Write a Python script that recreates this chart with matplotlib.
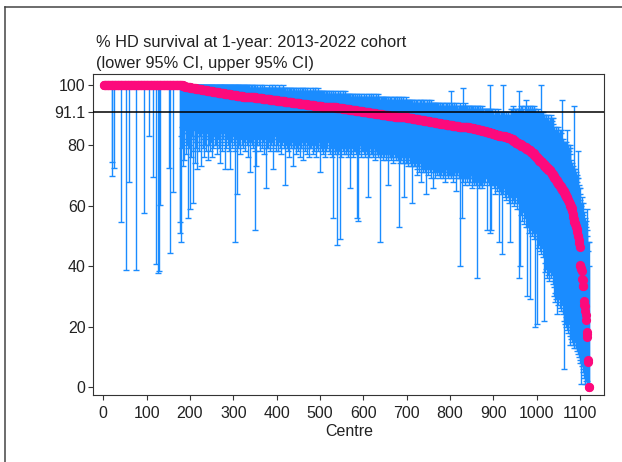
import numpy as np
import matplotlib
matplotlib.use("Agg")
import matplotlib.pyplot as plt
from matplotlib.lines import Line2D

# --- data (centres sorted by 1-year survival) ---
# estimate as runs: level held for count centres, then the sparse tail one by one
EST_LEVELS = [100.0, 99.8, 99.6, 99.4, 99.2,
              98.8, 98.5, 98.2, 97.9, 97.6, 97.3, 97.0, 96.7, 96.4, 96.1, 95.8,
              95.5, 95.2, 94.9, 94.6, 94.3, 94.0, 93.7, 93.4, 93.1, 92.8, 92.5,
              92.2, 91.9, 91.6, 91.3, 91.0, 90.7, 90.4, 90.1, 89.8, 89.5,
              89.2, 88.9, 88.6, 88.3, 88.0, 87.7, 87.4,
              87.1, 86.8, 86.5, 86.2, 85.9, 85.6, 85.3, 85.0, 84.7, 84.4, 84.1,
              83.8, 83.5, 83.2, 82.9, 82.6, 82.3,
              81.9, 81.4, 80.9, 80.4, 79.9, 79.4, 78.9, 78.5,
              77.9, 77.3, 76.7, 76.1, 75.5, 74.9, 74.3, 73.7, 73.1, 72.5, 71.9,
              71.3, 70.6, 69.9, 69.2, 68.5, 67.8, 67.1, 66.4, 65.8, 65.2,
              64.8, 64.2, 63.6, 63.0, 62.6, 62.0, 61.2, 60.6, 60.0, 59.2]
EST_COUNTS = [178, 5, 5, 5, 7,
              13, 13, 13, 13, 13, 14, 14, 14, 14, 14, 15,
              17, 17, 17, 17, 17, 17, 17, 17, 17, 17, 17,
              15, 15, 15, 15, 15, 15, 15, 15, 15, 15,
              13, 13, 13, 13, 13, 13, 12,
              14, 14, 14, 12, 12, 11, 10, 9, 9, 8, 8,
              7, 7, 7, 7, 7, 6,
              6, 6, 6, 6, 6, 6, 5, 5,
              4, 4, 4, 4, 4, 4, 4, 4, 4, 5, 5,
              3, 3, 3, 3, 3, 3, 3, 3, 3, 3,
              2, 2, 2, 2, 2, 2, 2, 2, 2, 2]
EST_TAIL = [58.3, 57.1, 56.4, 55.6, 55.0, 54.5, 54.2, 53.8, 53.3, 52.9,
            52.4, 52.0, 51.3, 50.0, 50.0, 48.6, 47.6, 46.2, 40.4, 40.0,
            39.3, 39.1, 38.5, 35.7, 35.3, 33.3, 33.3, 28.6, 27.3, 26.7,
            25.0, 23.8, 22.2, 18.2, 17.6, 16.7, 9.1, 8.3, 0.0, 0.0]

# centres at 100% that show a lower CI bar
ZERO_CI_X = [20, 21, 24, 42, 52, 60, 75, 95, 106, 114, 122, 127, 129, 131, 151, 153, 160, 177, 178]
ZERO_CI_LOW = [74.6, 69.9, 72.4, 54.5, 38.7, 68.0, 38.7, 57.5, 82.9, 69.6,
               40.6, 37.8, 38.5, 60.3, 72.4, 44.3, 64.5, 54.7, 50.9]

# CI for every centre from 179 onwards
FIRST_CI_CENTRE = 179
LOWER_CI = [
    83, 48, 86, 79, 88, 84, 73, 81, 75, 85, 90, 82, 77, 86, 80, 84, 56, 88, 79, 83,
    59, 84, 80, 87, 76, 83, 86, 61, 82, 78, 88, 85, 81, 74, 87, 83, 79, 86, 72, 84,
    85, 81, 87, 78, 83, 86, 80, 73, 88, 84, 79, 85, 82, 76, 87, 83, 80, 86, 84, 78,
    84, 86, 75, 82, 87, 80, 85, 78, 83, 88, 81, 86, 84, 76, 82, 79, 87, 83, 80, 85,
    83, 87, 80, 84, 77, 86, 82, 79, 85, 88, 81, 74, 84, 86, 80, 83, 78, 87, 82, 85,
    84, 81, 86, 72, 83, 79, 87, 82, 85, 80, 84, 78, 86, 72, 83, 81, 87, 79, 84, 82,
    83, 86, 80, 85, 78, 48, 84, 82, 87, 64, 81, 85, 79, 84, 86, 80, 83, 77, 85, 82,
    84, 80, 86, 79, 83, 85, 81, 87, 78, 84, 82, 86, 80, 83, 76, 85, 82, 87, 81, 84,
    71, 84, 81, 86, 80, 83, 85, 79, 82, 86, 78, 52, 84, 81, 73, 85, 80, 83, 86, 82,
    83, 80, 85, 78, 84, 82, 86, 79, 83, 81, 85, 77, 84, 80, 82, 86, 66, 83, 79, 84,
    82, 85, 79, 83, 81, 86, 78, 84, 80, 83, 85, 81, 79, 72, 84, 82, 80, 85, 83, 78,
    84, 80, 82, 85, 78, 83, 81, 86, 79, 84, 82, 77, 85, 80, 83, 81, 84, 79, 82, 85,
    67, 83, 80, 84, 79, 82, 85, 78, 83, 81, 76, 84, 80, 82, 85, 79, 83, 81, 80, 73,
    82, 79, 84, 80, 83, 77, 82, 85, 79, 81, 83, 78, 84, 80, 82, 76, 83, 81, 79, 84,
    81, 83, 79, 75, 84, 80, 82, 78, 83, 81, 77, 84, 79, 82, 80, 83, 76, 81, 84, 79,
    82, 79, 83, 80, 77, 84, 81, 78, 82, 80, 83, 76, 81, 84, 79, 82, 80, 78, 83, 81,
    80, 71, 82, 79, 83, 78, 81, 84, 77, 80, 82, 79, 83, 76, 81, 80, 78, 82, 79, 83,
    81, 78, 82, 80, 77, 83, 79, 81, 76, 82, 56, 80, 78, 83, 79, 81, 77, 82, 80, 78,
    47, 80, 77, 82, 79, 81, 78, 49, 80, 83, 76, 81, 79, 78, 82, 80, 77, 81, 79, 83,
    79, 81, 77, 80, 78, 82, 76, 80, 79, 81, 66, 78, 80, 77, 82, 79, 81, 76, 80, 78,
    80, 78, 81, 77, 79, 82, 56, 80, 55, 78, 81, 79, 77, 80, 82, 76, 79, 81, 78, 80,
    78, 80, 77, 81, 79, 76, 80, 78, 82, 79, 77, 63, 80, 78, 81, 76, 79, 80, 77, 81,
    79, 77, 80, 78, 76, 81, 79, 77, 80, 75, 78, 80, 77, 79, 81, 76, 78, 80, 77, 79,
    48, 78, 76, 79, 77, 80, 75, 78, 79, 76, 80, 77, 78, 75, 79, 77, 80, 76, 78, 67,
    77, 79, 76, 78, 75, 80, 77, 78, 76, 79, 74, 78, 77, 79, 76, 78, 75, 79, 77, 76,
    77, 75, 78, 53, 76, 78, 74, 77, 79, 75, 76, 78, 74, 77, 75, 63, 78, 76, 77, 74,
    76, 74, 77, 75, 78, 73, 76, 77, 74, 76, 75, 78, 73, 76, 61, 77, 74, 76, 75, 73,
    75, 73, 76, 74, 70, 76, 72, 75, 73, 77, 71, 74, 76, 73, 68, 75, 72, 76, 74, 71,
    74, 72, 75, 73, 71, 75, 64, 74, 72, 75, 73, 70, 74, 72, 75, 71, 73, 74, 69, 72,
    73, 66, 74, 71, 73, 72, 69, 74, 71, 73, 70, 74, 72, 71, 73, 70, 74, 72, 69, 73,
    72, 70, 73, 71, 69, 73, 72, 70, 73, 71, 68, 72, 73, 70, 72, 71, 69, 73, 70, 72,
    72, 70, 71, 73, 69, 72, 70, 73, 71, 68, 72, 70, 73, 71, 69, 65, 72, 70, 71, 73,
    71, 69, 72, 70, 40, 71, 69, 70, 56, 72, 70, 68, 71, 69, 72, 70, 67, 71, 69, 70,
    70, 68, 71, 69, 67, 70, 72, 69, 68, 71, 70, 66, 69, 71, 68, 70, 67, 71, 69, 68,
    69, 70, 67, 36, 70, 68, 69, 66, 70, 68, 67, 69, 71, 67, 68, 66, 70, 68, 69, 67,
    70, 71, 68, 72, 69, 70, 52, 71, 68, 70, 72, 69, 67, 51, 70, 68, 52, 71, 69, 67,
    69, 67, 70, 66, 68, 64, 70, 67, 69, 65, 68, 70, 66, 67, 48, 69, 65, 68, 66, 64,
    44, 67, 65, 68, 64, 66, 69, 63, 67, 65, 68, 62, 66, 64, 67, 65, 63, 68, 61, 66,
    48, 65, 63, 66, 61, 64, 67, 62, 65, 60, 64, 66, 61, 63, 65, 59, 64, 62, 66, 61,
    61, 36, 59, 40, 62, 57, 60, 55, 63, 58, 61, 54, 59, 62, 56, 60, 53, 58, 61, 30,
    57, 53, 56, 51, 58, 54, 29, 55, 52, 57, 50, 54, 56, 51, 53, 49, 55, 52, 20, 54,
    51, 21, 49, 52, 46, 50, 47, 51, 45, 49, 52, 44, 48, 50, 46, 49, 43, 47, 22, 48,
    41, 38, 43, 39, 36, 42, 40, 37, 43, 39, 35, 41, 38, 42, 36, 40, 37, 39, 34, 41,
    33, 30, 35, 31, 28, 34, 29, 24, 32, 30, 27, 33, 29, 31, 26, 32, 28, 30, 25, 29,
    27, 24, 28, 22, 6, 25, 21, 26, 23, 20, 24, 19, 22, 25, 18, 21, 23, 17, 14, 20,
    18, 16, 19, 15, 17, 14, 16, 18, 13, 15, 17, 14, 13, 16, 12, 14, 11, 13, 10, 12,
    11, 9, 8, 10, 1, 7, 8, 6, 5, 7, 3, 4, 1, 5, 3, 2, 1, 2, 1, 0,
    0, 0, 0]
UPPER_CI = [
    100, 100, 100, 100, 100, 100, 100, 100, 100, 100, 100, 100, 100, 100, 100, 100, 100, 100, 100, 100,
    100, 100, 99, 100, 100, 100, 99, 100, 100, 100, 100, 100, 99, 100, 100, 100, 100, 99, 100, 100,
    100, 99, 100, 100, 100, 99, 100, 100, 100, 100, 99, 100, 100, 100, 99, 100, 100, 100, 99, 100,
    100, 99, 100, 100, 99, 100, 100, 99, 100, 100, 100, 99, 100, 100, 100, 99, 100, 100, 99, 100,
    99, 100, 100, 99, 100, 100, 99, 100, 100, 99, 100, 100, 99, 100, 100, 99, 100, 100, 99, 100,
    100, 99, 100, 100, 99, 100, 99, 100, 100, 99, 100, 99, 100, 100, 99, 100, 100, 99, 100, 99,
    99, 100, 99, 100, 99, 100, 100, 99, 100, 100, 99, 100, 99, 100, 100, 99, 99, 100, 99, 100,
    100, 99, 99, 100, 99, 100, 99, 99, 100, 99, 100, 99, 99, 100, 99, 100, 99, 100, 99, 99,
    99, 100, 99, 98, 99, 100, 99, 99, 98, 100, 99, 99, 100, 99, 98, 99, 100, 99, 99, 98,
    99, 98, 99, 100, 98, 99, 99, 98, 100, 99, 98, 99, 99, 100, 98, 99, 99, 98, 99, 99,
    98, 99, 99, 98, 100, 99, 98, 99, 98, 99, 100, 98, 99, 99, 98, 99, 99, 98, 100, 99,
    98, 99, 98, 99, 99, 98, 100, 98, 99, 98, 99, 99, 98, 99, 98, 100, 98, 99, 98, 99,
    98, 99, 98, 97, 99, 98, 99, 98, 97, 99, 98, 98, 99, 97, 98, 99, 98, 97, 99, 98,
    98, 97, 99, 98, 98, 97, 99, 98, 97, 98, 99, 98, 97, 98, 99, 98, 97, 98, 98, 99,
    97, 98, 99, 97, 98, 98, 97, 99, 98, 97, 98, 97, 99, 98, 97, 98, 98, 97, 99, 98,
    98, 97, 98, 97, 99, 98, 97, 98, 97, 98, 99, 97, 98, 97, 98, 97, 99, 98, 97, 98,
    97, 98, 97, 96, 98, 97, 98, 97, 96, 98, 97, 98, 97, 96, 97, 98, 97, 96, 98, 97,
    97, 96, 98, 97, 96, 97, 98, 96, 97, 97, 96, 98, 97, 96, 97, 98, 96, 97, 97, 96,
    97, 96, 97, 98, 96, 97, 96, 97, 98, 96, 97, 96, 97, 98, 96, 97, 96, 97, 96, 98,
    96, 97, 96, 95, 97, 96, 97, 96, 95, 97, 96, 97, 96, 95, 97, 96, 96, 97, 95, 96,
    96, 95, 97, 96, 95, 96, 97, 95, 96, 96, 95, 97, 96, 95, 96, 97, 95, 96, 96, 95,
    96, 95, 96, 97, 95, 96, 95, 96, 97, 95, 96, 95, 96, 97, 95, 96, 95, 96, 95, 97,
    95, 96, 95, 96, 97, 95, 96, 95, 96, 95, 97, 96, 95, 96, 95, 96, 97, 95, 96, 95,
    95, 96, 95, 94, 96, 95, 96, 95, 94, 96, 95, 96, 95, 94, 96, 95, 95, 96, 94, 95,
    95, 94, 96, 95, 94, 95, 96, 94, 95, 95, 94, 96, 95, 94, 95, 96, 94, 95, 94, 96,
    94, 95, 94, 96, 95, 94, 95, 94, 96, 95, 94, 95, 94, 96, 95, 94, 95, 94, 95, 96,
    94, 95, 94, 93, 95, 94, 95, 94, 93, 95, 94, 95, 93, 94, 95, 94, 93, 95, 94, 94,
    94, 93, 95, 94, 93, 94, 95, 93, 94, 94, 93, 95, 94, 93, 94, 95, 93, 94, 93, 95,
    93, 94, 95, 93, 94, 93, 94, 95, 93, 94, 93, 94, 95, 93, 94, 93, 94, 93, 95, 94,
    93, 94, 93, 92, 94, 93, 94, 93, 92, 94, 93, 94, 92, 93, 94, 93, 92, 94, 93, 93,
    93, 92, 94, 93, 92, 93, 94, 92, 93, 93, 92, 94, 93, 92, 93, 94, 92, 93, 92, 94,
    93, 92, 93, 98, 92, 93, 94, 92, 93, 92, 93, 94, 92, 93, 92, 93, 94, 92, 93, 92,
    92, 93, 92, 93, 92, 94, 93, 92, 93, 92, 99, 93, 92, 93, 92, 94, 93, 92, 93, 92,
    92, 93, 92, 91, 93, 92, 93, 92, 91, 93, 92, 93, 92, 91, 92, 93, 92, 91, 93, 92,
    92, 91, 92, 93, 91, 92, 93, 91, 92, 91, 92, 93, 91, 92, 91, 92, 93, 91, 92, 91,
    91, 92, 90, 91, 92, 91, 92, 90, 91, 92, 91, 90, 92, 100, 91, 90, 92, 91, 90, 92,
    90, 91, 89, 90, 92, 90, 89, 91, 90, 89, 91, 90, 92, 89, 90, 91, 89, 90, 91, 89,
    90, 89, 91, 100, 89, 90, 91, 89, 90, 88, 91, 90, 89, 90, 88, 91, 89, 90, 88, 89,
    90, 92, 91, 89, 92, 90, 91, 93, 89, 91, 90, 92, 91, 89, 92, 90, 91, 89, 92, 91,
    91, 98, 92, 90, 93, 91, 92, 90, 93, 91, 92, 90, 91, 93, 90, 91, 95, 90, 92, 91,
    92, 91, 93, 91, 92, 90, 93, 91, 92, 91, 93, 90, 92, 91, 92, 93, 91, 90, 92, 91,
    90, 91, 89, 90, 92, 89, 91, 90, 89, 91, 100, 90, 89, 91, 90, 89, 91, 90, 89, 90,
    88, 89, 87, 90, 88, 87, 89, 88, 90, 87, 88, 89, 87, 88, 90, 87, 89, 88, 87, 89,
    85, 84, 86, 83, 85, 84, 86, 83, 84, 85, 83, 86, 84, 83, 85, 84, 82, 85, 84, 95,
    81, 80, 82, 79, 81, 80, 81, 79, 80, 81, 85, 79, 80, 78, 80, 79, 78, 80, 77, 79,
    75, 74, 73, 74, 72, 73, 72, 93, 71, 72, 70, 71, 70, 69, 70, 68, 69, 78, 67, 66,
    66, 62, 64, 61, 60, 63, 59, 61, 58, 57, 55, 58, 54, 56, 53, 55, 52, 59, 50, 48,
    45, 48, 40]

NATIONAL = 91.1
Y_TICKS = [0, 20, 40, 60, 80, 91.1, 100]
Y_TICK_LABELS = ["0", "20", "40", "60", "80", "91.1", "100"]
X_TICKS = list(range(0, 1101, 100))

BLUE = "#1a8cff"
PINK = "#fc0a7c"
INK = "#222222"

plt.rcParams["font.family"] = ["Liberation Sans", "DejaVu Sans"]

est = np.concatenate([np.repeat(EST_LEVELS, EST_COUNTS), EST_TAIL])
centre = np.arange(1, len(est) + 1)

ci_x = np.concatenate([ZERO_CI_X, np.arange(FIRST_CI_CENTRE, len(est) + 1)])
ci_lo = np.concatenate([ZERO_CI_LOW, LOWER_CI]).astype(float)
ci_hi = np.concatenate([[100.0] * len(ZERO_CI_X), UPPER_CI]).astype(float)
assert len(ci_x) == len(ci_lo) == len(ci_hi), (len(ci_x), len(ci_lo), len(ci_hi))
ci_est = est[ci_x - 1]

fig = plt.figure(figsize=(6.22, 4.62), dpi=100)
ax = fig.add_axes([0.150, 0.145, 0.8215, 0.695])

ax.errorbar(ci_x, ci_est, yerr=[ci_est - ci_lo, ci_hi - ci_est], fmt="none",
            ecolor=BLUE, elinewidth=1.0, capsize=2.2, capthick=1.0, zorder=2)
ax.plot(centre, est, "o", ms=6.6, color=PINK, mec="none", zorder=3)
ax.axhline(NATIONAL, color="black", lw=1.1, zorder=4)

ax.set_xlim(-23, 1156)
ax.set_ylim(-2.65, 103.6)
ax.set_xticks(X_TICKS)
ax.set_yticks(Y_TICKS)
ax.set_yticklabels(Y_TICK_LABELS)
ax.tick_params(direction="out", length=3.6, width=0.8, colors="#333333",
               labelcolor=INK, labelsize=11.5)
ax.tick_params(axis="x", pad=4)
ax.tick_params(axis="y", pad=2)
for s in ax.spines.values():
    s.set_color("#333333")
    s.set_linewidth(0.8)
ax.set_xlabel("Centre", fontsize=11.5, color=INK, labelpad=2.5)

fig.text(96 / 622, 1 - 47 / 462, "% HD survival at 1-year: 2013-2022 cohort",
         fontsize=11.8, color=INK, va="baseline", ha="left")
fig.text(96 / 622, 1 - 68 / 462, "(lower 95% CI, upper 95% CI)",
         fontsize=11.8, color=INK, va="baseline", ha="left")

# outer frame (left and top edges visible in the reference)
fig.add_artist(Line2D([4.5 / 622, 4.5 / 622], [0, 1 - 6.5 / 462],
                      transform=fig.transFigure, color="#444444", lw=1.1))
fig.add_artist(Line2D([4.5 / 622, 1], [1 - 6.5 / 462, 1 - 6.5 / 462],
                      transform=fig.transFigure, color="#444444", lw=1.1))

fig.savefig("out.png", dpi=100)
